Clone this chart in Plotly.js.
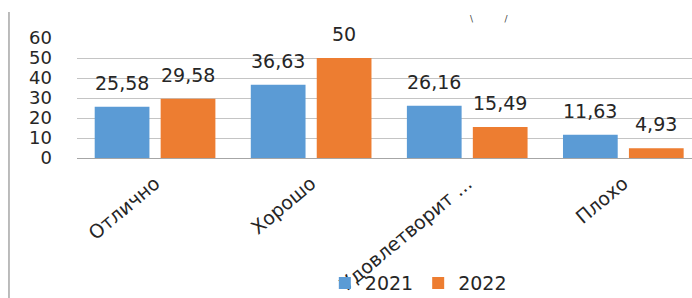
<!DOCTYPE html>
<html>
<head>
<meta charset="utf-8">
<script src="https://cdn.plot.ly/plotly-3.0.1.min.js"></script>
<style>html,body{margin:0;padding:0;background:#fff;}#chart{width:692px;height:298px;}</style>
</head>
<body>
<div id="chart"></div>
<script>
const categories = ["Отлично", "Хорошо", "Удовлетворит ...", "Плохо"];
const seriesNames = ["2021", "2022"];
const values2021 = [25.58, 36.63, 26.16, 11.63];
const values2022 = [29.58, 50, 15.49, 4.93];
const yTicks = [0, 10, 20, 30, 40, 50, 60];

const colors = ["#5b9bd5", "#ed7d31"];
const FONT = "DejaVu Sans";
const bargap = 0.155;
const slot = (1 - bargap) / 2;
const fmt = v => String(v).replace(".", ",");

const traces = [values2021, values2022].map((vals, k) => ({
  type: "bar",
  name: seriesNames[k],
  x: categories,
  y: vals,
  marker: {color: colors[k]},
  hoverinfo: "none"
}));

const annotations = [];
[values2021, values2022].forEach((vals, k) => {
  vals.forEach((v, i) => {
    annotations.push({
      x: i + (k === 0 ? -slot / 2 : slot / 2),
      y: v,
      xref: "x", yref: "y",
      text: fmt(v),
      showarrow: false,
      yanchor: "bottom",
      yshift: 11,
      font: {family: FONT, size: 19, color: "#262626"}
    });
  });
});
annotations.push({
  x: 0.706, y: 1.1, xref: "paper", yref: "paper",
  text: "\\&nbsp;&nbsp;&nbsp;&nbsp;&nbsp;&nbsp;&nbsp;&nbsp;&nbsp;&nbsp;&nbsp;/", showarrow: false, yanchor: "bottom",
  font: {family: FONT, size: 9, color: "#404040"}
});

const layout = {
  width: 692, height: 298,
  margin: {l: 77, r: 0, t: 38, b: 140, pad: 0, autoexpand: false},
  paper_bgcolor: "#ffffff", plot_bgcolor: "#ffffff",
  barmode: "group",
  bargap: bargap,
  bargroupgap: 0.17,
  showlegend: true,
  legend: {
    orientation: "h", xref: "paper", x: 0.555, xanchor: "center",
    yref: "container", y: 0.05, yanchor: "middle",
    font: {family: FONT, size: 19, color: "#262626"},
    bgcolor: "rgba(0,0,0,0)",
    itemwidth: 30, traceorder: "normal"
  },
  xaxis: {
    type: "category",
    automargin: false,
    range: [-0.5, 3.44],
    tickangle: -40,
    tickfont: {family: FONT, size: 19, color: "#262626"},
    showline: true, linecolor: "#a6a6a6", linewidth: 1,
    showgrid: false, ticks: "", ticklabelstandoff: 6, fixedrange: true
  },
  yaxis: {
    automargin: false,
    range: [0, 60],
    tickvals: yTicks,
    ticktext: yTicks.map(String),
    tickfont: {family: FONT, size: 18, color: "#262626"},
    showgrid: true, gridcolor: "#c4c4c4", gridwidth: 1,
    zeroline: false, showline: false, ticks: "",
    ticklabelstandoff: 24, fixedrange: true
  },
  annotations: annotations,
  shapes: [{
    type: "line", xref: "paper", yref: "paper",
    x0: -0.1106, x1: -0.1106, y0: -1.17, y1: 1.217,
    line: {color: "#a6a6a6", width: 1.5}
  }]
};

Plotly.newPlot("chart", traces, layout, {staticPlot: true, displayModeBar: false});
</script>
</body>
</html>
